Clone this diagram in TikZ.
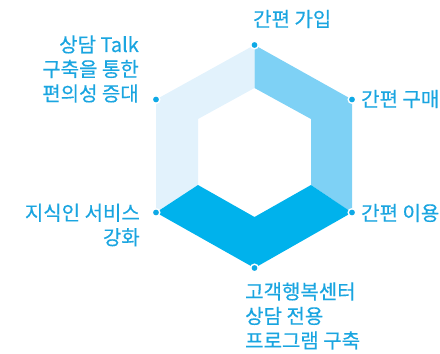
\documentclass[tikz,border=0pt]{standalone}
\usepackage{fontspec}
\setmainfont[FakeBold=0.4]{Noto Sans CJK KR}
\begin{document}
\begin{tikzpicture}[x=1pt,y=-1pt,
  lbl/.style={inner sep=0pt, text=txtblue, font=\fontsize{20}{24.5}\selectfont},
  vdot/.style={circle, fill=dotblue, draw=white, line width=1.4pt, inner sep=0pt, minimum size=7.6pt}]
\definecolor{txtblue}{HTML}{1AA5E0}
\definecolor{dotblue}{HTML}{0EA9E6}
\definecolor{segdark}{HTML}{00B2EC}
\definecolor{seglight}{HTML}{7ED1F5}
\definecolor{segpale}{HTML}{E2F2FC}
\useasboundingbox (0,0) rectangle (440,354);
% outer vertices
\coordinate (oT) at (254.5,45);
\coordinate (oUR) at (352,99.5);
\coordinate (oLR) at (352,212.5);
\coordinate (oB) at (254.5,268);
\coordinate (oLL) at (156,212.5);
\coordinate (oUL) at (156,99.5);
% inner vertices
\coordinate (iT) at (254.5,88);
\coordinate (iUR) at (311,119);
\coordinate (iLR) at (311,185);
\coordinate (iB) at (254.5,217);
\coordinate (iLL) at (198,185);
\coordinate (iUL) at (198,119);
% segments
\fill[segpale] (oLL) -- (oUL) -- (oT) -- (iT) -- (iUL) -- (iLL) -- cycle;
\fill[seglight] (oT) -- (oUR) -- (oLR) -- (iLR) -- (iUR) -- (iT) -- cycle;
\fill[segdark] (oLR) -- (oB) -- (oLL) -- (iLL) -- (iB) -- (iLR) -- cycle;
% dots
\node[vdot] (dT) at (oT) {};
\node[vdot] (dUR) at (oUR) {};
\node[vdot] (dLR) at (oLR) {};
\node[vdot] (dB) at (oB) {};
\node[vdot] (dLL) at (oLL) {};
\node[vdot] (dUL) at (oUL) {};
% labels
\node[lbl, anchor=west] (lT) at (253,19) {간편 가입};
\node[lbl, anchor=west] (lUR) at (361,99) {간편 구매};
\node[lbl, anchor=west] (lLR) at (361,213) {간편 이용};
\node[lbl, anchor=east, align=right] (lUL) at (139,69) {상담 Talk\\구축을 통한\\편의성 증대};
\node[lbl, anchor=east, align=right] (lLL) at (140,225) {지식인 서비스\\강화};
\node[lbl, anchor=west, align=left] (lB) at (245,316) {고객행복센터\\상담 전용\\프로그램 구축};
\end{tikzpicture}
\end{document}
